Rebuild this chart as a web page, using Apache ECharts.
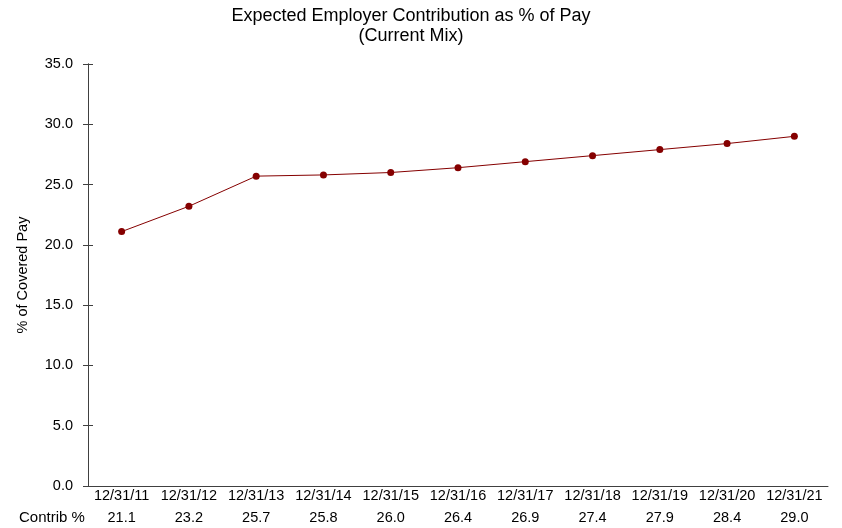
<!DOCTYPE html>
<html>
<head>
<meta charset="utf-8">
<script src="https://cdn.jsdelivr.net/npm/echarts@6/dist/echarts.min.js"></script>
<style>
  html, body { margin: 0; padding: 0; background: #fff; }
  #chart { width: 842px; height: 528px; }
</style>
</head>
<body>
<div id="chart"></div>
<script>
// Valuation dates and expected employer contribution (% of covered pay)
const dates = ['12/31/11', '12/31/12', '12/31/13', '12/31/14', '12/31/15', '12/31/16',
               '12/31/17', '12/31/18', '12/31/19', '12/31/20', '12/31/21'];
const contribPct = [21.1, 23.2, 25.7, 25.8, 26.0, 26.4, 26.9, 27.4, 27.9, 28.4, 29.0];
const yTicks = { min: 0, max: 35, interval: 5 };

const FONT = '"Liberation Sans", Arial, sans-serif';
const LINE_RED = '#850000';
const AXIS_GREY = '#404040';

const chart = echarts.init(document.getElementById('chart'), null, { renderer: 'canvas' });

const baseYAxis = {
  type: 'value',
  min: yTicks.min,
  max: yTicks.max,
  interval: yTicks.interval,
  splitLine: { show: false },
  axisLine: { show: true, lineStyle: { color: AXIS_GREY, width: 1 } }
};

chart.setOption({
  animation: false,
  backgroundColor: '#fff',
  grid: { left: 88, right: 14, top: 64, bottom: 42, containLabel: false },
  xAxis: {
    type: 'category',
    data: dates,
    boundaryGap: true,
    axisLine: { show: true, lineStyle: { color: AXIS_GREY, width: 1 } },
    axisTick: { show: false },
    axisLabel: {
      interval: 0,
      margin: 1,
      fontFamily: FONT,
      color: '#000',
      // date on the first line, contribution value underneath (data table row)
      formatter: (val, idx) => '{d|' + val + '}\n{v|' + contribPct[idx].toFixed(1) + '}',
      rich: {
        d: { fontFamily: FONT, fontSize: 14.5, color: '#000', lineHeight: 18 },
        v: { fontFamily: FONT, fontSize: 14.5, color: '#000', lineHeight: 26 }
      }
    }
  },
  yAxis: [
    Object.assign({}, baseYAxis, {
      name: '% of Covered Pay',
      nameLocation: 'middle',
      nameGap: 58,
      nameRotate: 90,
      nameTextStyle: { fontFamily: FONT, fontSize: 14.5, color: '#000' },
      axisTick: { show: true, inside: false, length: 5, lineStyle: { color: AXIS_GREY } },
      axisLabel: {
        margin: 15,
        fontFamily: FONT,
        fontSize: 14.5,
        color: '#000',
        formatter: v => v.toFixed(1)
      }
    }),
    // same scale again, only to draw the inner half of the cross ticks
    Object.assign({}, baseYAxis, {
      position: 'left',
      axisTick: { show: true, inside: true, length: 5, lineStyle: { color: AXIS_GREY } },
      axisLabel: { show: false }
    })
  ],
  graphic: [
    {
      type: 'text',
      x: 411,
      y: 16,
      style: {
        text: 'Expected Employer Contribution as % of Pay',
        font: '18px ' + FONT,
        fill: '#000',
        textAlign: 'center',
        textVerticalAlign: 'middle'
      }
    },
    {
      type: 'text',
      x: 411,
      y: 36,
      style: {
        text: '(Current Mix)',
        font: '18px ' + FONT,
        fill: '#000',
        textAlign: 'center',
        textVerticalAlign: 'middle'
      }
    },
    {
      type: 'text',
      x: 19,
      y: 518,
      style: {
        text: 'Contrib %',
        font: '15px ' + FONT,
        fill: '#000',
        textAlign: 'left',
        textVerticalAlign: 'middle'
      }
    }
  ],
  series: [{
    type: 'line',
    data: contribPct,
    yAxisIndex: 0,
    symbol: 'circle',
    symbolSize: 7,
    lineStyle: { color: LINE_RED, width: 1 },
    itemStyle: { color: LINE_RED },
    label: { show: false }
  }]
});
</script>
</body>
</html>
